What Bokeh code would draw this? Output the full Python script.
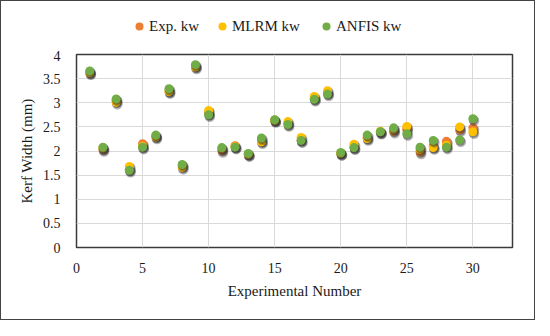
import numpy as np
from bokeh.plotting import figure
from bokeh.layouts import column
from bokeh.models import Range1d, FixedTicker, NumeralTickFormatter, Legend, LegendItem
from bokeh.embed import file_html
from bokeh.resources import INLINE

exp_no = list(range(1, 31))
exp_kw = [3.63, 2.03, 3.05, 1.62, 2.15, 2.31, 3.25, 1.70, 3.76, 2.78,
          2.01, 2.11, 1.93, 2.22, 2.64, 2.57, 2.22, 3.09, 3.21, 1.95,
          2.07, 2.28, 2.39, 2.41, 2.45, 1.98, 2.10, 2.20, 2.44, 2.48]
mlrm_kw = [3.62, 2.06, 3.01, 1.68, 2.10, 2.29, 3.23, 1.66, 3.74, 2.84,
           2.05, 2.09, 1.93, 2.19, 2.63, 2.61, 2.28, 3.13, 3.25, 1.95,
           2.14, 2.26, 2.41, 2.45, 2.51, 2.03, 2.07, 2.12, 2.50, 2.40]
anfis_kw = [3.66, 2.08, 3.08, 1.60, 2.08, 2.33, 3.29, 1.72, 3.79, 2.75,
            2.07, 2.08, 1.95, 2.27, 2.65, 2.55, 2.22, 3.07, 3.18, 1.97,
            2.07, 2.33, 2.40, 2.48, 2.36, 2.08, 2.22, 2.08, 2.23, 2.67]
series_names = ["Exp. kw", "MLRM kw", "ANFIS kw"]
series_colors = ["#ED7D31", "#FFC000", "#70AD47"]
x_ticks = [0, 5, 10, 15, 20, 25, 30]
y_ticks = [0, 0.5, 1, 1.5, 2, 2.5, 3, 3.5, 4]

FONT = "Liberation Serif"
TXT = "#1a1a1a"

# legend strip
top = figure(width=533, height=49, output_backend="svg", toolbar_location=None,
             x_axis_type=None, y_axis_type=None, x_range=Range1d(0, 1), y_range=Range1d(0, 1),
             min_border_left=0, min_border_right=0, min_border_top=0, min_border_bottom=0)
top.outline_line_color = None
top.xgrid.visible = False
top.ygrid.visible = False

p = figure(width=533, height=269, output_backend="svg", toolbar_location=None,
           x_range=Range1d(0, 33), y_range=Range1d(0, 4),
           min_border_left=75, min_border_right=22, min_border_top=4, min_border_bottom=72)
p.outline_line_color = "#3a3a3a"
p.outline_line_width = 1.5

p.xaxis.ticker = FixedTicker(ticks=x_ticks)
p.yaxis.ticker = FixedTicker(ticks=y_ticks)
p.yaxis.formatter = NumeralTickFormatter(format="0.[0]")
for ax in (p.xaxis[0], p.yaxis[0]):
    ax.axis_line_color = None
    ax.major_tick_line_color = None
    ax.minor_tick_line_color = None
    ax.major_tick_out = 0
    ax.major_tick_in = 0
    ax.minor_tick_out = 0
    ax.minor_tick_in = 0
    ax.major_label_text_font = FONT
    ax.major_label_text_font_size = "14px"
    ax.major_label_text_color = TXT
    ax.axis_label_text_font = FONT
    ax.axis_label_text_font_size = "15px"
    ax.axis_label_text_font_style = "normal"
    ax.axis_label_text_color = TXT
p.xaxis.major_label_standoff = 15
p.yaxis.major_label_standoff = 16
p.xaxis.axis_label = "Experimental Number"
p.yaxis.axis_label = "Kerf Width (mm)"
p.xaxis.axis_label_standoff = 7
p.yaxis.axis_label_standoff = 5

p.xgrid.grid_line_color = "#d9d9d9"
p.ygrid.grid_line_color = "#d9d9d9"
p.xgrid.grid_line_width = 1
p.ygrid.grid_line_width = 1

dx = 1.2 / 13.2
dy = 2.0 / 48.3
legend_x = [53, 136, 240]
for name, vals, col, lx in zip(series_names, [exp_kw, mlrm_kw, anfis_kw], series_colors, legend_x):
    xs = np.array(exp_no, dtype=float)
    ys = np.array(vals, dtype=float)
    p.scatter(xs + dx, ys - dy, size=10.5, fill_color="#303030", fill_alpha=0.35, line_color=None)
    p.scatter(xs + dx * 0.6, ys - dy * 0.6, size=9.5, fill_color="#303030", fill_alpha=0.4, line_color=None)
    p.scatter(xs, ys, size=9, fill_color=col, line_color=None)
    # invisible stand-in renderer (NaN position) so the legend swatch can be drawn in the strip
    r = top.scatter(x=np.array([np.nan]), y=np.array([np.nan]), size=9, fill_color=col, line_color=None)
    lg = Legend(items=[LegendItem(label=name, renderers=[r])], orientation="horizontal",
                location=(lx, 14), glyph_width=20, glyph_height=20, label_standoff=0,
                padding=0, margin=0, border_line_color=None, background_fill_alpha=0,
                label_text_font=FONT, label_text_font_size="15px", label_text_color=TXT)
    top.add_layout(lg, "center")

layout = column(top, p, spacing=0)
layout.styles = {"border": "1px solid #444444"}

open("out.html", "w").write(file_html(layout, INLINE))
